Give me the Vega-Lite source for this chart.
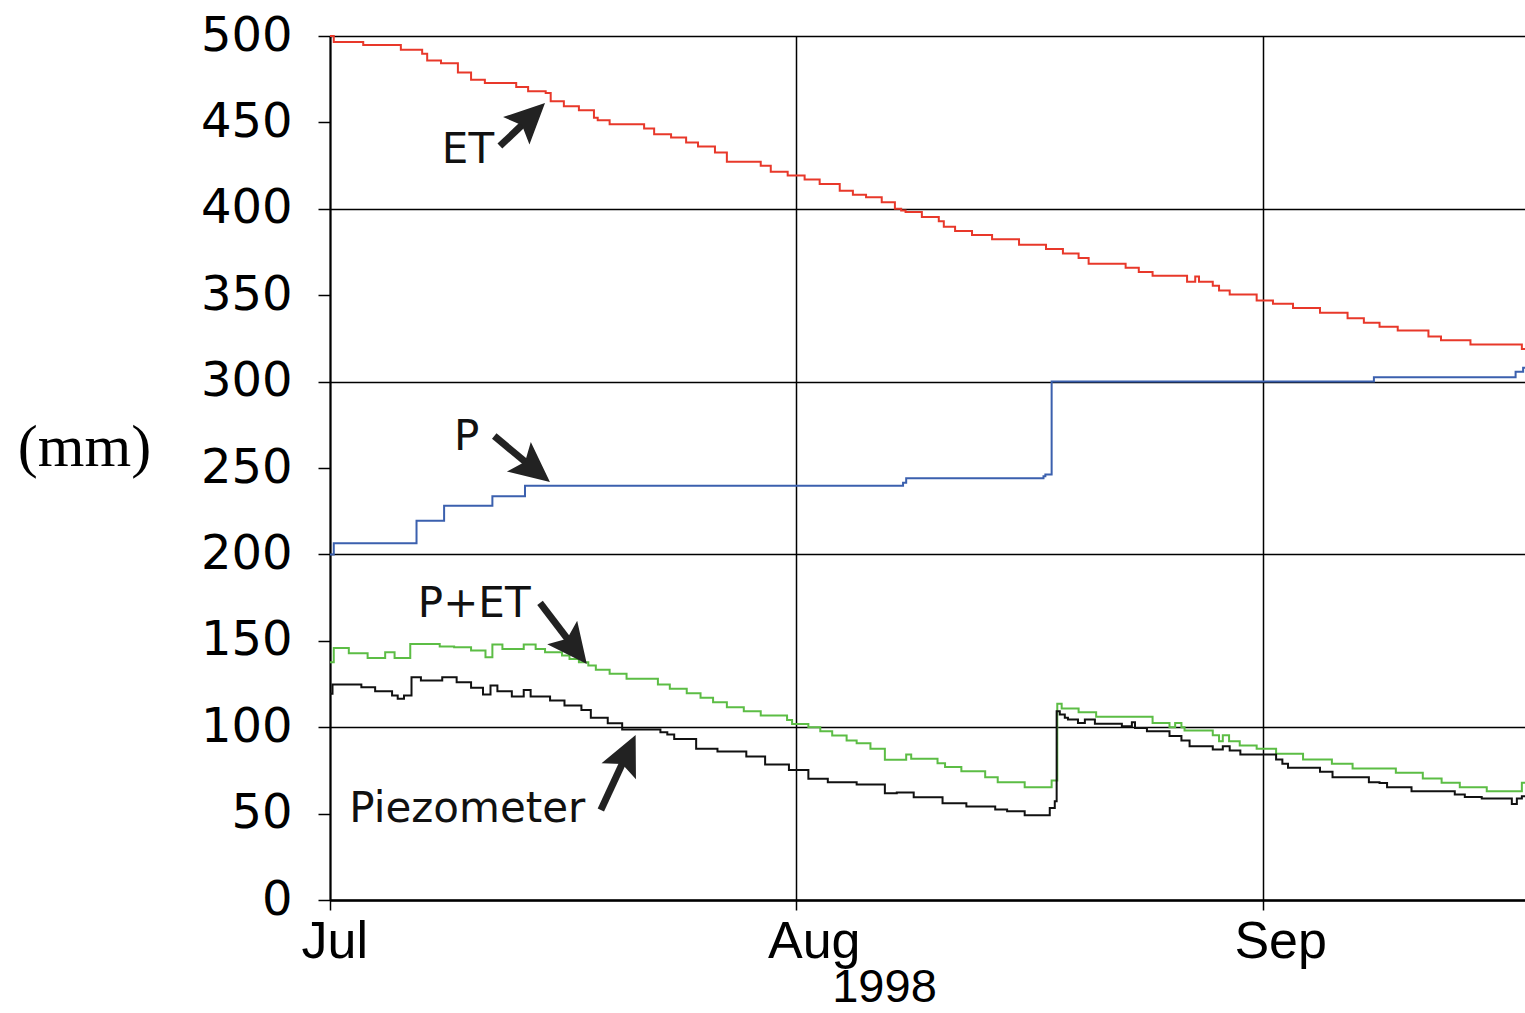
{
  "$schema": "https://vega.github.io/schema/vega-lite/v6.json",
  "width": 1195,
  "height": 864,
  "autosize": {"type": "none"},
  "padding": {"left": 330, "top": 36, "right": 0, "bottom": 113},
  "background": "white",
  "config": {"view": {"stroke": null}},
  "datasets": {
    "series": [
      {"s":"ET","t":"1998-07-01T00:00","v":500},
      {"s":"ET","t":"1998-07-01T06:00","v":496.6},
      {"s":"ET","t":"1998-07-03T05:00","v":494.8},
      {"s":"ET","t":"1998-07-05T17:00","v":492},
      {"s":"ET","t":"1998-07-07T03:00","v":489.7},
      {"s":"ET","t":"1998-07-07T11:00","v":485.8},
      {"s":"ET","t":"1998-07-08T09:00","v":484.3},
      {"s":"ET","t":"1998-07-09T12:00","v":478.9},
      {"s":"ET","t":"1998-07-10T09:00","v":474.7},
      {"s":"ET","t":"1998-07-11T07:00","v":472.8},
      {"s":"ET","t":"1998-07-13T09:00","v":470.5},
      {"s":"ET","t":"1998-07-14T04:00","v":468},
      {"s":"ET","t":"1998-07-15T08:00","v":467},
      {"s":"ET","t":"1998-07-15T16:00","v":462.3},
      {"s":"ET","t":"1998-07-16T13:00","v":459.4},
      {"s":"ET","t":"1998-07-17T13:00","v":457.1},
      {"s":"ET","t":"1998-07-18T13:00","v":452.7},
      {"s":"ET","t":"1998-07-18T19:00","v":451.3},
      {"s":"ET","t":"1998-07-19T14:00","v":448.9},
      {"s":"ET","t":"1998-07-21T21:00","v":446.4},
      {"s":"ET","t":"1998-07-22T13:00","v":443.1},
      {"s":"ET","t":"1998-07-23T16:00","v":441.2},
      {"s":"ET","t":"1998-07-24T16:00","v":438.3},
      {"s":"ET","t":"1998-07-25T11:00","v":436},
      {"s":"ET","t":"1998-07-26T14:00","v":432.6},
      {"s":"ET","t":"1998-07-27T09:00","v":427.2},
      {"s":"ET","t":"1998-07-29T15:00","v":424.9},
      {"s":"ET","t":"1998-07-30T07:00","v":421.5},
      {"s":"ET","t":"1998-07-31T10:00","v":419.2},
      {"s":"ET","t":"1998-08-01T13:00","v":416.9},
      {"s":"ET","t":"1998-08-02T13:00","v":414.4},
      {"s":"ET","t":"1998-08-03T21:00","v":410.5},
      {"s":"ET","t":"1998-08-04T18:00","v":408.2},
      {"s":"ET","t":"1998-08-05T15:00","v":406.7},
      {"s":"ET","t":"1998-08-06T16:00","v":403.8},
      {"s":"ET","t":"1998-08-07T13:00","v":400},
      {"s":"ET","t":"1998-08-07T23:00","v":399},
      {"s":"ET","t":"1998-08-08T06:00","v":398.1},
      {"s":"ET","t":"1998-08-09T08:00","v":395.3},
      {"s":"ET","t":"1998-08-10T11:00","v":392.8},
      {"s":"ET","t":"1998-08-10T19:00","v":389.6},
      {"s":"ET","t":"1998-08-11T13:00","v":387.1},
      {"s":"ET","t":"1998-08-12T16:00","v":384.8},
      {"s":"ET","t":"1998-08-14T00:00","v":382.4},
      {"s":"ET","t":"1998-08-15T19:00","v":379.2},
      {"s":"ET","t":"1998-08-17T14:00","v":376.7},
      {"s":"ET","t":"1998-08-18T17:00","v":374.1},
      {"s":"ET","t":"1998-08-19T18:00","v":371.6},
      {"s":"ET","t":"1998-08-20T10:00","v":368.2},
      {"s":"ET","t":"1998-08-22T21:00","v":365.9},
      {"s":"ET","t":"1998-08-23T18:00","v":363.4},
      {"s":"ET","t":"1998-08-24T16:00","v":361.2},
      {"s":"ET","t":"1998-08-26T23:00","v":357.8},
      {"s":"ET","t":"1998-08-27T12:00","v":360.8},
      {"s":"ET","t":"1998-08-27T18:00","v":357.8},
      {"s":"ET","t":"1998-08-28T16:00","v":355.5},
      {"s":"ET","t":"1998-08-29T02:00","v":352.7},
      {"s":"ET","t":"1998-08-29T19:00","v":350.4},
      {"s":"ET","t":"1998-08-31T14:00","v":347},
      {"s":"ET","t":"1998-09-01T16:00","v":345.1},
      {"s":"ET","t":"1998-09-03T00:00","v":342.6},
      {"s":"ET","t":"1998-09-04T19:00","v":339.8},
      {"s":"ET","t":"1998-09-06T15:00","v":336.6},
      {"s":"ET","t":"1998-09-07T17:00","v":334.1},
      {"s":"ET","t":"1998-09-08T18:00","v":331.8},
      {"s":"ET","t":"1998-09-09T23:00","v":329.5},
      {"s":"ET","t":"1998-09-12T00:00","v":326.1},
      {"s":"ET","t":"1998-09-12T20:00","v":323.9},
      {"s":"ET","t":"1998-09-14T19:00","v":321.4},
      {"s":"ET","t":"1998-09-18T05:00","v":318.9},
      {"s":"ET","t":"1998-09-18T10:00","v":318.9},

      {"s":"P","t":"1998-07-01T00:00","v":200},
      {"s":"P","t":"1998-07-01T06:00","v":206.4},
      {"s":"P","t":"1998-07-06T18:00","v":219.5},
      {"s":"P","t":"1998-07-08T14:00","v":228.2},
      {"s":"P","t":"1998-07-11T19:00","v":233.6},
      {"s":"P","t":"1998-07-13T23:00","v":239.8},
      {"s":"P","t":"1998-08-08T02:00","v":241.5},
      {"s":"P","t":"1998-08-08T07:00","v":244.1},
      {"s":"P","t":"1998-08-17T10:00","v":245.2},
      {"s":"P","t":"1998-08-17T13:00","v":246.3},
      {"s":"P","t":"1998-08-17T23:00","v":300},
      {"s":"P","t":"1998-09-08T09:00","v":302.5},
      {"s":"P","t":"1998-09-17T19:00","v":305.7},
      {"s":"P","t":"1998-09-18T07:00","v":308},
      {"s":"P","t":"1998-09-18T10:00","v":308},

      {"s":"P+ET","t":"1998-07-01T00:00","v":137.6},
      {"s":"P+ET","t":"1998-07-01T06:00","v":145.9},
      {"s":"P+ET","t":"1998-07-02T06:00","v":142.8},
      {"s":"P+ET","t":"1998-07-03T12:00","v":140.1},
      {"s":"P+ET","t":"1998-07-04T16:00","v":143.4},
      {"s":"P+ET","t":"1998-07-05T07:00","v":140.1},
      {"s":"P+ET","t":"1998-07-06T08:00","v":148.2},
      {"s":"P+ET","t":"1998-07-08T07:00","v":146.7},
      {"s":"P+ET","t":"1998-07-09T06:00","v":146.3},
      {"s":"P+ET","t":"1998-07-10T09:00","v":144.4},
      {"s":"P+ET","t":"1998-07-11T08:00","v":140.5},
      {"s":"P+ET","t":"1998-07-11T19:00","v":147.8},
      {"s":"P+ET","t":"1998-07-12T11:00","v":145.3},
      {"s":"P+ET","t":"1998-07-13T21:00","v":147.8},
      {"s":"P+ET","t":"1998-07-14T16:00","v":145.3},
      {"s":"P+ET","t":"1998-07-15T07:00","v":143.4},
      {"s":"P+ET","t":"1998-07-16T10:00","v":141.5},
      {"s":"P+ET","t":"1998-07-16T22:00","v":139.5},
      {"s":"P+ET","t":"1998-07-17T13:00","v":137.6},
      {"s":"P+ET","t":"1998-07-18T04:00","v":135.7},
      {"s":"P+ET","t":"1998-07-18T16:00","v":133.2},
      {"s":"P+ET","t":"1998-07-19T14:00","v":130.9},
      {"s":"P+ET","t":"1998-07-20T17:00","v":128},
      {"s":"P+ET","t":"1998-07-22T19:00","v":124.7},
      {"s":"P+ET","t":"1998-07-23T14:00","v":122.2},
      {"s":"P+ET","t":"1998-07-24T17:00","v":119.7},
      {"s":"P+ET","t":"1998-07-25T15:00","v":117},
      {"s":"P+ET","t":"1998-07-26T11:00","v":114.5},
      {"s":"P+ET","t":"1998-07-27T09:00","v":111.6},
      {"s":"P+ET","t":"1998-07-28T12:00","v":109.3},
      {"s":"P+ET","t":"1998-07-29T15:00","v":106.8},
      {"s":"P+ET","t":"1998-07-31T09:00","v":104.2},
      {"s":"P+ET","t":"1998-07-31T17:00","v":101.9},
      {"s":"P+ET","t":"1998-08-01T19:00","v":100},
      {"s":"P+ET","t":"1998-08-02T14:00","v":97.7},
      {"s":"P+ET","t":"1998-08-03T09:00","v":95.2},
      {"s":"P+ET","t":"1998-08-04T08:00","v":92.3},
      {"s":"P+ET","t":"1998-08-05T00:00","v":90.7},
      {"s":"P+ET","t":"1998-08-05T22:00","v":87.5},
      {"s":"P+ET","t":"1998-08-06T21:00","v":81.1},
      {"s":"P+ET","t":"1998-08-08T07:00","v":84.2},
      {"s":"P+ET","t":"1998-08-08T15:00","v":81.7},
      {"s":"P+ET","t":"1998-08-10T09:00","v":79.2},
      {"s":"P+ET","t":"1998-08-10T21:00","v":76.9},
      {"s":"P+ET","t":"1998-08-11T23:00","v":74.5},
      {"s":"P+ET","t":"1998-08-13T13:00","v":71.1},
      {"s":"P+ET","t":"1998-08-14T09:00","v":68.2},
      {"s":"P+ET","t":"1998-08-16T04:00","v":65.3},
      {"s":"P+ET","t":"1998-08-17T23:00","v":69.1},
      {"s":"P+ET","t":"1998-08-18T08:00","v":113.5},
      {"s":"P+ET","t":"1998-08-18T15:00","v":110.8},
      {"s":"P+ET","t":"1998-08-19T18:00","v":108.7},
      {"s":"P+ET","t":"1998-08-20T22:00","v":106},
      {"s":"P+ET","t":"1998-08-24T16:00","v":102.5},
      {"s":"P+ET","t":"1998-08-25T19:00","v":100},
      {"s":"P+ET","t":"1998-08-26T04:00","v":102.5},
      {"s":"P+ET","t":"1998-08-26T14:00","v":100},
      {"s":"P+ET","t":"1998-08-26T19:00","v":98.1},
      {"s":"P+ET","t":"1998-08-28T16:00","v":95.4},
      {"s":"P+ET","t":"1998-08-29T02:00","v":91.9},
      {"s":"P+ET","t":"1998-08-29T08:00","v":95.4},
      {"s":"P+ET","t":"1998-08-29T18:00","v":91.9},
      {"s":"P+ET","t":"1998-08-30T11:00","v":89.4},
      {"s":"P+ET","t":"1998-08-31T14:00","v":87.5},
      {"s":"P+ET","t":"1998-09-01T21:00","v":84.6},
      {"s":"P+ET","t":"1998-09-03T16:00","v":81.3},
      {"s":"P+ET","t":"1998-09-05T14:00","v":78.8},
      {"s":"P+ET","t":"1998-09-06T23:00","v":76.1},
      {"s":"P+ET","t":"1998-09-09T20:00","v":73.6},
      {"s":"P+ET","t":"1998-09-11T15:00","v":70.3},
      {"s":"P+ET","t":"1998-09-12T21:00","v":67.8},
      {"s":"P+ET","t":"1998-09-14T02:00","v":65.3},
      {"s":"P+ET","t":"1998-09-15T21:00","v":62.9},
      {"s":"P+ET","t":"1998-09-18T05:00","v":67.8},
      {"s":"P+ET","t":"1998-09-18T10:00","v":67.8},

      {"s":"Piezometer","t":"1998-07-01T00:00","v":119.3},
      {"s":"Piezometer","t":"1998-07-01T04:00","v":124.7},
      {"s":"Piezometer","t":"1998-07-03T02:00","v":123.1},
      {"s":"Piezometer","t":"1998-07-04T00:00","v":120.8},
      {"s":"Piezometer","t":"1998-07-05T03:00","v":118.3},
      {"s":"Piezometer","t":"1998-07-05T12:00","v":116.4},
      {"s":"Piezometer","t":"1998-07-05T22:00","v":118.3},
      {"s":"Piezometer","t":"1998-07-06T10:00","v":128.9},
      {"s":"Piezometer","t":"1998-07-07T01:00","v":127},
      {"s":"Piezometer","t":"1998-07-08T11:00","v":128.9},
      {"s":"Piezometer","t":"1998-07-09T10:00","v":126},
      {"s":"Piezometer","t":"1998-07-10T09:00","v":122.8},
      {"s":"Piezometer","t":"1998-07-11T04:00","v":118.9},
      {"s":"Piezometer","t":"1998-07-11T16:00","v":124.1},
      {"s":"Piezometer","t":"1998-07-12T03:00","v":120.8},
      {"s":"Piezometer","t":"1998-07-13T02:00","v":117.7},
      {"s":"Piezometer","t":"1998-07-13T21:00","v":121.6},
      {"s":"Piezometer","t":"1998-07-14T08:00","v":117.7},
      {"s":"Piezometer","t":"1998-07-15T15:00","v":115.4},
      {"s":"Piezometer","t":"1998-07-16T14:00","v":112.5},
      {"s":"Piezometer","t":"1998-07-17T17:00","v":110},
      {"s":"Piezometer","t":"1998-07-18T08:00","v":105.4},
      {"s":"Piezometer","t":"1998-07-19T11:00","v":102.3},
      {"s":"Piezometer","t":"1998-07-20T10:00","v":98.6},
      {"s":"Piezometer","t":"1998-07-22T23:00","v":97.1},
      {"s":"Piezometer","t":"1998-07-23T10:00","v":95.8},
      {"s":"Piezometer","t":"1998-07-23T21:00","v":93.2},
      {"s":"Piezometer","t":"1998-07-25T08:00","v":87.5},
      {"s":"Piezometer","t":"1998-07-26T18:00","v":85.9},
      {"s":"Piezometer","t":"1998-07-28T16:00","v":83},
      {"s":"Piezometer","t":"1998-07-29T22:00","v":78.4},
      {"s":"Piezometer","t":"1998-07-31T12:00","v":75.3},
      {"s":"Piezometer","t":"1998-08-01T19:00","v":70.1},
      {"s":"Piezometer","t":"1998-08-03T02:00","v":68.2},
      {"s":"Piezometer","t":"1998-08-05T00:00","v":66.8},
      {"s":"Piezometer","t":"1998-08-06T21:00","v":61.8},
      {"s":"Piezometer","t":"1998-08-07T16:00","v":62.2},
      {"s":"Piezometer","t":"1998-08-08T19:00","v":59.5},
      {"s":"Piezometer","t":"1998-08-10T17:00","v":56},
      {"s":"Piezometer","t":"1998-08-12T07:00","v":54.1},
      {"s":"Piezometer","t":"1998-08-14T05:00","v":52.4},
      {"s":"Piezometer","t":"1998-08-15T00:00","v":51.4},
      {"s":"Piezometer","t":"1998-08-16T04:00","v":49.1},
      {"s":"Piezometer","t":"1998-08-17T20:00","v":53.3},
      {"s":"Piezometer","t":"1998-08-18T04:00","v":57.2},
      {"s":"Piezometer","t":"1998-08-18T07:00","v":109.3},
      {"s":"Piezometer","t":"1998-08-18T12:00","v":107.3},
      {"s":"Piezometer","t":"1998-08-18T20:00","v":105.4},
      {"s":"Piezometer","t":"1998-08-19T01:00","v":104.4},
      {"s":"Piezometer","t":"1998-08-19T17:00","v":102.5},
      {"s":"Piezometer","t":"1998-08-20T04:00","v":104.4},
      {"s":"Piezometer","t":"1998-08-20T20:00","v":102},
      {"s":"Piezometer","t":"1998-08-22T15:00","v":100.5},
      {"s":"Piezometer","t":"1998-08-23T07:00","v":102.8},
      {"s":"Piezometer","t":"1998-08-23T12:00","v":99.6},
      {"s":"Piezometer","t":"1998-08-24T07:00","v":97.7},
      {"s":"Piezometer","t":"1998-08-25T19:00","v":94.9},
      {"s":"Piezometer","t":"1998-08-26T14:00","v":92.3},
      {"s":"Piezometer","t":"1998-08-27T03:00","v":89},
      {"s":"Piezometer","t":"1998-08-28T16:00","v":87.1},
      {"s":"Piezometer","t":"1998-08-29T08:00","v":89},
      {"s":"Piezometer","t":"1998-08-29T19:00","v":86.5},
      {"s":"Piezometer","t":"1998-08-30T12:00","v":84.2},
      {"s":"Piezometer","t":"1998-09-01T21:00","v":81.3},
      {"s":"Piezometer","t":"1998-09-02T07:00","v":78.8},
      {"s":"Piezometer","t":"1998-09-02T16:00","v":76.5},
      {"s":"Piezometer","t":"1998-09-04T19:00","v":74.2},
      {"s":"Piezometer","t":"1998-09-05T15:00","v":71.1},
      {"s":"Piezometer","t":"1998-09-08T01:00","v":68.2},
      {"s":"Piezometer","t":"1998-09-08T18:00","v":67.7},
      {"s":"Piezometer","t":"1998-09-09T06:00","v":65.3},
      {"s":"Piezometer","t":"1998-09-10T21:00","v":63},
      {"s":"Piezometer","t":"1998-09-13T18:00","v":61},
      {"s":"Piezometer","t":"1998-09-14T10:00","v":59.6},
      {"s":"Piezometer","t":"1998-09-15T13:00","v":58.7},
      {"s":"Piezometer","t":"1998-09-17T13:00","v":55.6},
      {"s":"Piezometer","t":"1998-09-17T21:00","v":58.7},
      {"s":"Piezometer","t":"1998-09-18T05:00","v":60},
      {"s":"Piezometer","t":"1998-09-18T10:00","v":60}
    ],
    "labels": [
      {"label":"ET","t":"1998-07-10T04:00","v":426.5},
      {"label":"P","t":"1998-07-10T02:00","v":260.4},
      {"label":"P+ET","t":"1998-07-10T14:00","v":163.8},
      {"label":"Piezometer","t":"1998-07-10T03:00","v":45.1}
    ],
    "arrows": [
      {"name":"ET","t":"1998-07-12T07:00","v":436.3,"t2":"1998-07-14T08:00","v2":453.2,"angle":46},
      {"name":"P","t":"1998-07-11T22:00","v":268.5,"t2":"1998-07-14T14:00","v2":249.2,"angle":129},
      {"name":"P+ET","t":"1998-07-14T23:00","v":171.9,"t2":"1998-07-17T06:00","v2":145.7,"angle":142},
      {"name":"Piezometer","t":"1998-07-19T00:00","v":52.1,"t2":"1998-07-20T18:00","v2":85.0,"angle":25}
    ]
  },
  "layer": [
    {
      "data": {"name": "series"},
      "mark": {"type": "line", "interpolate": "step-after", "strokeWidth": 2},
      "encoding": {
        "x": {
          "field": "t", "type": "temporal",
          "scale": {"domain": [{"year": 1998, "month": 7, "date": 1}, {"year": 1998, "month": 9, "date": 18, "hours": 10}]},
          "axis": {
            "values": [{"year": 1998, "month": 7, "date": 1}, {"year": 1998, "month": 8, "date": 1}, {"year": 1998, "month": 9, "date": 1}],
            "format": "%b",
            "grid": true, "gridColor": "#000000", "gridWidth": 1.5, "gridOpacity": 1,
            "tickColor": "#000000", "tickSize": 10, "tickWidth": 1.5,
            "domainColor": "#000000", "domainWidth": 2.5,
            "labelFont": "Liberation Sans", "labelFontSize": 52, "labelColor": "#000000",
            "labelAlign": "left", "labelOffset": -29, "labelPadding": 6, "labelBaseline": "top",
            "labelFlush": false, "labelOverlap": false,
            "title": "1998", "titleFont": "Liberation Sans", "titleFontSize": 47, "titleFontWeight": "normal",
            "titleColor": "#000000", "titleX": 554, "titleY": 101, "titleAlign": "center", "titleBaseline": "alphabetic"
          }
        },
        "y": {
          "field": "v", "type": "quantitative",
          "scale": {"domain": [0, 500], "nice": false, "zero": true},
          "axis": {
            "values": [0, 50, 100, 150, 200, 250, 300, 350, 400, 450, 500],
            "grid": true, "gridColor": "#000000", "gridWidth": 1.5,
            "gridOpacity": {"condition": {"test": "datum.value % 100 === 0", "value": 1}, "value": 0},
            "tickColor": "#000000", "tickSize": 12, "tickWidth": 1.5,
            "domainColor": "#000000", "domainWidth": 2,
            "labelFont": "DejaVu Sans", "labelFontSize": 48, "labelColor": "#000000",
            "labelPadding": 26, "labelFlush": false, "labelOverlap": false,
            "title": "(mm)", "titleFont": "Liberation Serif", "titleFontSize": 60, "titleFontWeight": "normal",
            "titleColor": "#000000", "titleAngle": 0, "titleX": -246, "titleY": 429,
            "titleAlign": "center", "titleBaseline": "alphabetic"
          }
        },
        "color": {
          "field": "s", "type": "nominal",
          "scale": {"domain": ["ET", "P", "P+ET", "Piezometer"], "range": ["#e8382a", "#3b60ae", "#5cbd45", "#111111"]},
          "legend": null
        }
      }
    },
    {
      "data": {"name": "arrows"},
      "mark": {"type": "rule", "strokeWidth": 7, "color": "#222222"},
      "encoding": {
        "x": {"field": "t", "type": "temporal"},
        "y": {"field": "v", "type": "quantitative"},
        "x2": {"field": "t2"},
        "y2": {"field": "v2"}
      }
    },
    {
      "data": {"name": "arrows"},
      "mark": {"type": "point", "shape": "M0,-1L0.95,1L0,0.6L-0.95,1Z", "filled": true, "color": "#222222", "opacity": 1, "size": 1600},
      "encoding": {
        "x": {"field": "t2", "type": "temporal"},
        "y": {"field": "v2", "type": "quantitative"},
        "angle": {"field": "angle", "type": "quantitative", "scale": null}
      }
    },
    {
      "data": {"name": "labels"},
      "mark": {"type": "text", "font": "DejaVu Sans", "fontSize": 42, "color": "#111111", "align": "center", "baseline": "alphabetic"},
      "encoding": {
        "x": {"field": "t", "type": "temporal"},
        "y": {"field": "v", "type": "quantitative"},
        "text": {"field": "label"}
      }
    }
  ]
}
